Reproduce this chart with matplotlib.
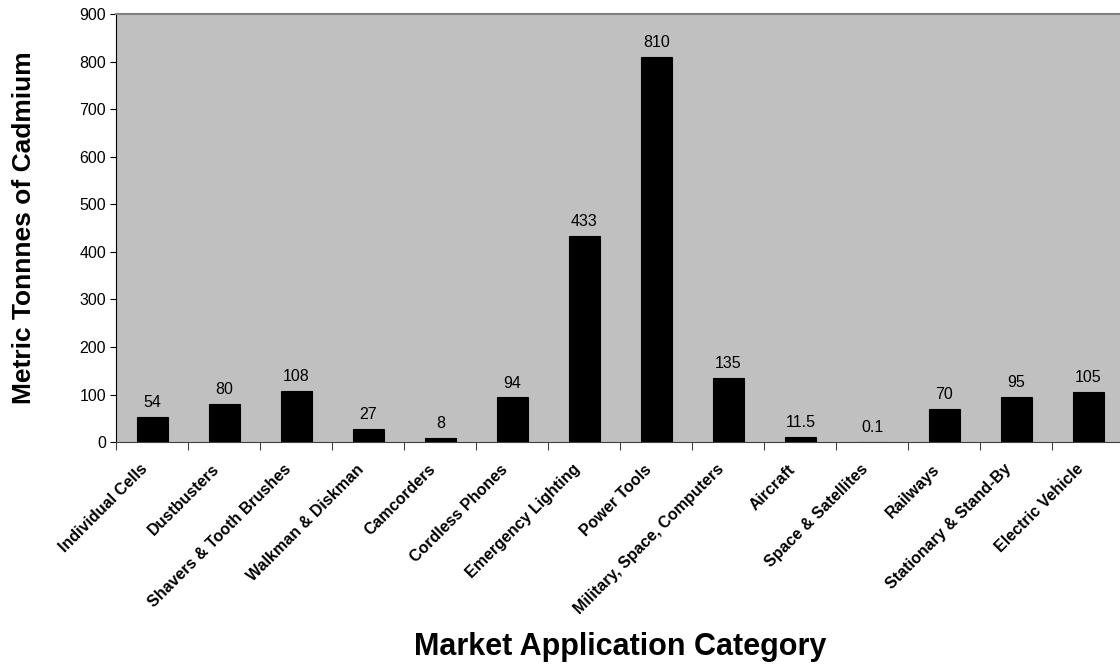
import numpy as np
import matplotlib.pyplot as plt

categories = [
    "Individual Cells", "Dustbusters", "Shavers & Tooth Brushes",
    "Walkman & Diskman", "Camcorders", "Cordless Phones",
    "Emergency Lighting", "Power Tools", "Military, Space, Computers",
    "Aircraft", "Space & Satellites", "Railways",
    "Stationary & Stand-By", "Electric Vehicle",
]
tonnes = [54, 80, 108, 27, 8, 94, 433, 810, 135, 11.5, 0.1, 70, 95, 105]
value_labels = ["54", "80", "108", "27", "8", "94", "433", "810", "135",
                "11.5", "0.1", "70", "95", "105"]
y_ticks = list(range(0, 901, 100))

plt.rcParams["font.family"] = ["Liberation Sans", "DejaVu Sans"]

fig = plt.figure(figsize=(11.2, 6.69), dpi=100)
ax = fig.add_axes([0.104, 0.339, 0.9, 0.640])
ax.set_facecolor("#c0c0c0")

x = np.arange(len(categories))
ax.bar(x, tonnes, width=0.42, color="black", edgecolor="black", linewidth=0.8, zorder=3)

for xi, val, lab in zip(x, tonnes, value_labels):
    ax.annotate(lab, (xi, val), xytext=(0, 5), textcoords="offset points",
                ha="center", va="bottom", fontsize=11.5)

ax.set_xlim(-0.5, len(categories) - 0.5)
ax.set_ylim(0, 900)
ax.set_yticks(y_ticks)
ax.tick_params(axis="y", labelsize=11.5, length=4, direction="out")

# ticks sit on category boundaries
ax.set_xticks(np.arange(len(categories) + 1) - 0.5)
ax.set_xticklabels([])
ax.tick_params(axis="x", length=6, direction="out", color="#404040")

# category names, slanted, ending under each bar
for xi, cat in zip(x, categories):
    ax.annotate(cat, (xi, 0), xycoords=ax.get_xaxis_transform(),
                xytext=(-9, -14), textcoords="offset points",
                rotation=45, rotation_mode="anchor", ha="right", va="top",
                fontsize=11.5, fontweight="bold", annotation_clip=False)

ax.spines["left"].set_color("black")
ax.spines["bottom"].set_color("#404040")
ax.spines["top"].set_color("#808080")
ax.spines["top"].set_linewidth(1.5)
ax.spines["right"].set_visible(False)

fig.text(0.021, 0.66, "Metric Tonnnes of Cadmium", rotation=90, ha="center",
         va="center", fontsize=19, fontweight="bold")
fig.text(0.554, 0.033, "Market Application Category", ha="center", va="center",
         fontsize=22, fontweight="bold")

fig.savefig("out.png", dpi=100)
